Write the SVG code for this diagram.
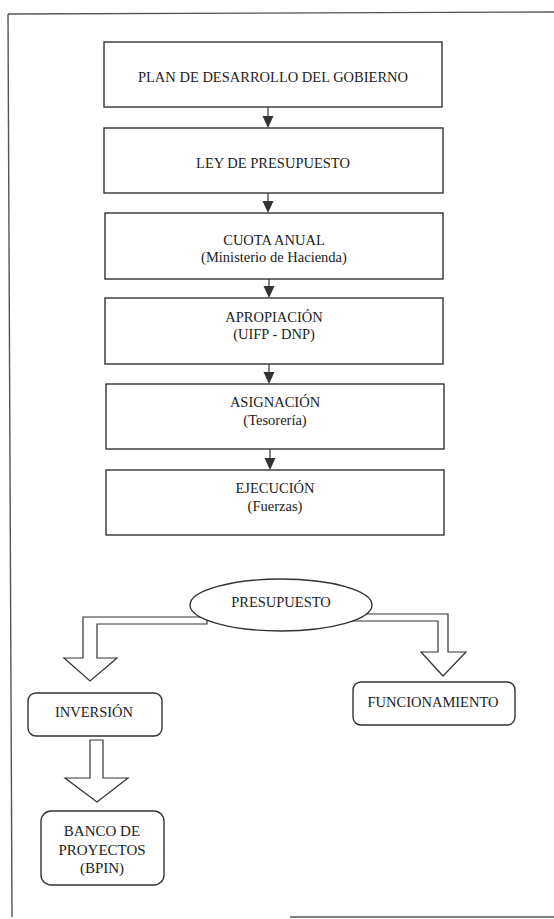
<svg xmlns="http://www.w3.org/2000/svg" width="554" height="919" viewBox="0 0 554 919">
<style>
.frame{fill:none;stroke:#555;stroke-width:1.4}
.box{fill:#fff;stroke:#333;stroke-width:1.4}
.t{font-family:"Liberation Serif","Times New Roman",serif;font-size:14.5px;fill:#222;text-anchor:middle}
.line{stroke:#333;stroke-width:1.2;fill:none}
.hollow{fill:#fff;stroke:#333;stroke-width:1.2;stroke-linejoin:miter}
</style>
<defs>
<marker id="ah" markerWidth="10" markerHeight="10" refX="5.5" refY="10" orient="auto" markerUnits="userSpaceOnUse" viewBox="0 0 11 10">
<path d="M0,0 L11,0 L5.5,10 Z" fill="#333"/>
</marker>
</defs>
<rect width="554" height="919" fill="#fff"/>
<g id="frame">
<path class="frame" d="M8,14 L554,12"/>
<path class="frame" d="M8,14 L12,917"/>
<path class="frame" d="M290,917 L554,917"/>
</g>
<g id="connectors">
<line class="line" x1="268" y1="107" x2="268" y2="117"/>
<path d="M262.5,116 L273.5,116 L268,128 Z" fill="#333"/>
<line class="line" x1="268" y1="193" x2="268" y2="202"/>
<path d="M262.5,201 L273.5,201 L268,213 Z" fill="#333"/>
<line class="line" x1="269" y1="279" x2="269" y2="287"/>
<path d="M263.5,286 L274.5,286 L269,298 Z" fill="#333"/>
<line class="line" x1="269" y1="364" x2="269" y2="373"/>
<path d="M263.5,372 L274.5,372 L269,384 Z" fill="#333"/>
<line class="line" x1="270" y1="449" x2="270" y2="459"/>
<path d="M264.5,458 L275.5,458 L270,470 Z" fill="#333"/>
<polygon class="hollow" points="207,617 83,617 83,658 64,658 90,681 117,658 97,658 97,624 207,624"/>
<polygon class="hollow" points="352,614 448,614 448,652 466,652 443,676 421,652 438,652 438,621 352,621"/>
<polygon class="hollow" points="90,740 103,740 103,778 128,778 97,802 65,778 90,778"/>
</g>
<g id="plan">
<rect class="box" x="104" y="42" width="338" height="65"/>
<text class="t" x="273" y="82">PLAN DE DESARROLLO DEL GOBIERNO</text>
</g>
<g id="ley">
<rect class="box" x="104" y="128" width="339" height="65"/>
<text class="t" x="273" y="168">LEY DE PRESUPUESTO</text>
</g>
<g id="cuota">
<rect class="box" x="105" y="213" width="338" height="66"/>
<text class="t" x="274" y="245">CUOTA ANUAL</text>
<text class="t" x="274" y="262">(Ministerio de Hacienda)</text>
</g>
<g id="apropiacion">
<rect class="box" x="105" y="298" width="338" height="66"/>
<text class="t" x="274" y="322">APROPIACIÓN</text>
<text class="t" x="274" y="339">(UIFP - DNP)</text>
</g>
<g id="asignacion">
<rect class="box" x="106" y="384" width="338" height="65"/>
<text class="t" x="275" y="407">ASIGNACIÓN</text>
<text class="t" x="275" y="425">(Tesorería)</text>
</g>
<g id="ejecucion">
<rect class="box" x="106" y="470" width="338" height="65"/>
<text class="t" x="275" y="493">EJECUCIÓN</text>
<text class="t" x="275" y="511">(Fuerzas)</text>
</g>
<g id="presupuesto">
<ellipse class="box" cx="281" cy="605" rx="91" ry="26"/>
<text class="t" x="281" y="607">PRESUPUESTO</text>
</g>
<g id="inversion">
<rect class="box" x="28" y="693" width="134" height="43" rx="8"/>
<text class="t" x="94" y="717">INVERSIÓN</text>
</g>
<g id="funcionamiento">
<rect class="box" x="353" y="682" width="162" height="43" rx="8"/>
<text class="t" x="433" y="707">FUNCIONAMIENTO</text>
</g>
<g id="banco">
<rect class="box" x="41" y="811" width="123" height="74" rx="10"/>
<text class="t" x="102" y="836" style="font-size:15px">BANCO DE</text>
<text class="t" x="102" y="855" style="font-size:15px">PROYECTOS</text>
<text class="t" x="102" y="873" style="font-size:15px">(BPIN)</text>
</g>
</svg>
